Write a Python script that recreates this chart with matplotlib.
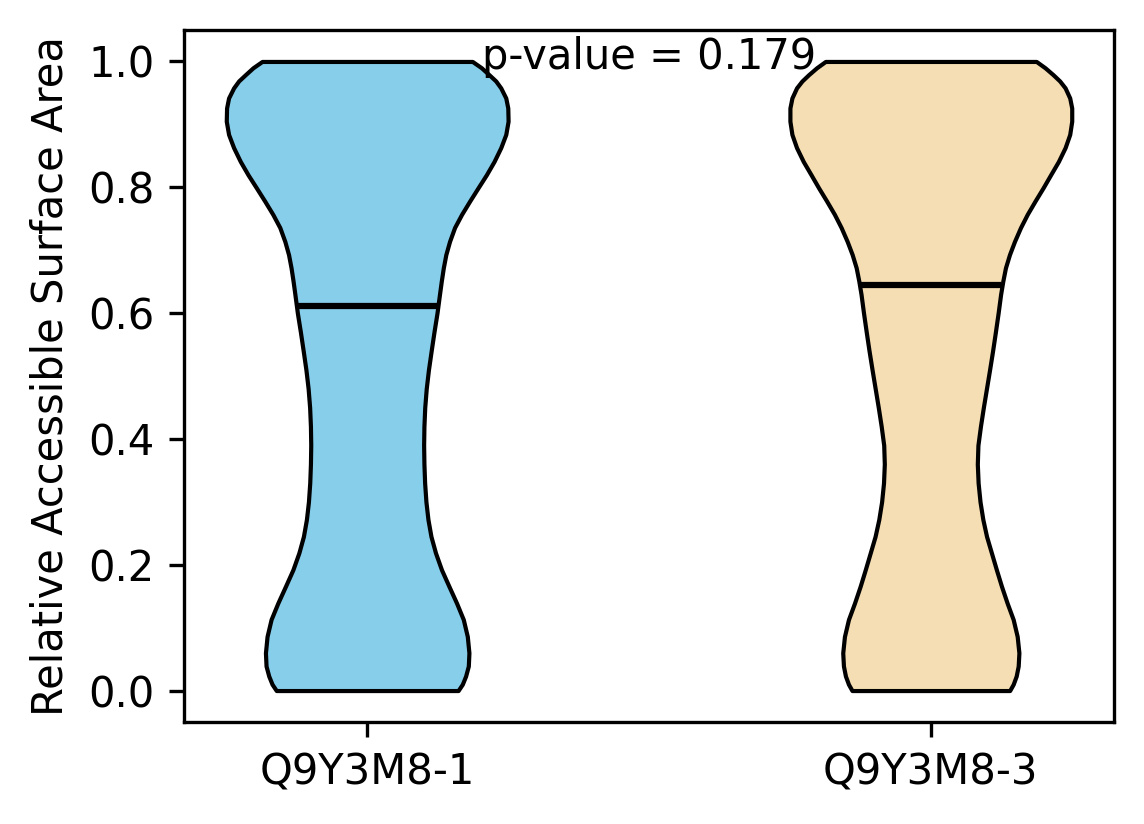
import numpy as np
import matplotlib.pyplot as plt

# isoform labels and colours
isoforms = ["Q9Y3M8-1", "Q9Y3M8-3"]
colors = ["skyblue", "wheat"]
p_value = 0.179

# RSA grid and density (arbitrary units)
rsa = [0.0, 0.010, 0.023, 0.039, 0.060, 0.086, 0.113, 0.139, 0.166, 0.192,
       0.219, 0.245, 0.272, 0.300, 0.330, 0.360, 0.390, 0.420, 0.450, 0.480,
       0.510, 0.540, 0.570, 0.600, 0.630, 0.651, 0.672, 0.693, 0.714, 0.736,
       0.757, 0.778, 0.799, 0.820, 0.841, 0.863, 0.884, 0.905, 0.926, 0.942,
       0.958, 0.969, 0.979, 0.990, 1.0]

density_1 = [90.5, 94.7, 98.0, 100.7, 101.3, 99.7, 95.7, 89.0, 81.3, 74.0,
             68.0, 63.5, 60.5, 58.5, 57.2, 56.5, 56.2, 56.5, 57.3, 58.8,
             61.0, 63.7, 66.5, 69.5, 72.0, 73.8, 75.8, 78.3, 82.0, 87.0,
             94.0, 102.0, 110.3, 118.7, 126.3, 133.0, 138.0, 140.3, 140.0, 138.0,
             133.0, 128.0, 121.3, 113.7, 104.7]

density_3 = [78.5, 82.0, 85.0, 87.0, 87.7, 86.0, 82.0, 76.0, 70.3, 65.3,
             60.3, 55.5, 51.8, 49.0, 47.1, 46.3, 46.9, 49.4, 52.3, 55.4,
             58.5, 61.5, 64.3, 67.0, 69.5, 71.7, 74.3, 78.3, 83.3, 89.3,
             96.0, 103.7, 111.7, 119.3, 127.0, 133.7, 138.3, 140.3, 140.3, 138.3,
             133.7, 128.3, 121.7, 113.7, 105.0]

medians = [0.611, 0.645]

# %%
stats = []
for dens, med in zip([density_1, density_3], medians):
    stats.append({
        "coords": np.array(rsa),
        "vals": np.array(dens),
        "mean": med,
        "median": med,
        "min": rsa[0],
        "max": rsa[-1],
    })

fig = plt.figure(figsize=(1144 / 300, 824 / 300), dpi=300)
ax = fig.add_axes([184 / 1144, 1 - 722 / 824, (1114 - 184) / 1144, (722 - 30) / 824])

pos = [1, 2]
vp = ax.violin(stats, positions=pos, widths=0.5,
               showmeans=False, showextrema=False, showmedians=True)
for body, c in zip(vp["bodies"], colors):
    body.set_facecolor(c)
    body.set_edgecolor("black")
    body.set_linewidth(1)
    body.set_alpha(1)
    body.set_joinstyle("round")
vp["cmedians"].set_color("black")
vp["cmedians"].set_linewidth(1.5)

ax.set_xticks(pos)
ax.set_xticklabels(isoforms)
ax.set_ylabel("Relative Accessible Surface Area")

ax.text(1.5, 1.007, "p-value = {:.3f}".format(p_value), ha="center", va="center")

# %%
fig.savefig("out.png", dpi=300)
